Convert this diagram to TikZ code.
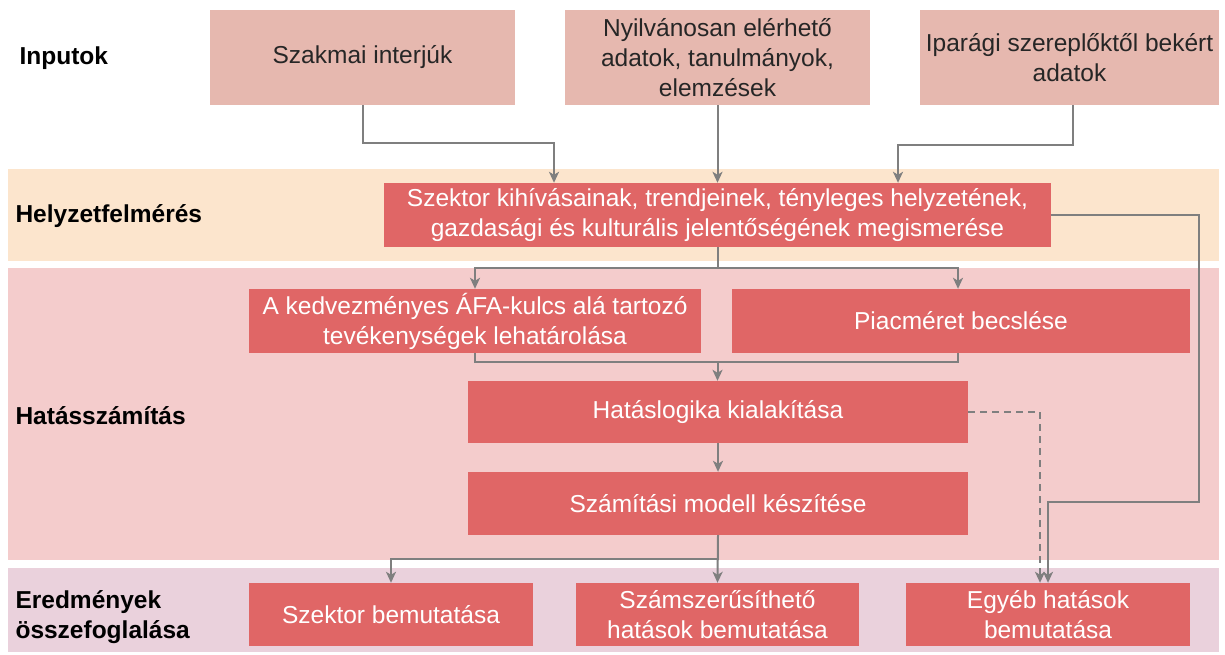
\documentclass[tikz,border=0pt]{standalone}
\usepackage{fontspec}
\setmainfont{Liberation Sans}
\usetikzlibrary{arrows.meta}
\definecolor{inboxc}{HTML}{E6B8AF}
\definecolor{redboxc}{HTML}{E06666}
\definecolor{bandA}{HTML}{FCE5CD}
\definecolor{bandB}{HTML}{F4CCCC}
\definecolor{bandC}{HTML}{EAD1DC}
\definecolor{connc}{HTML}{7F7F7F}
\begin{document}
\begin{tikzpicture}[x=1pt,y=-1pt,
  boxbase/.style={rectangle, inner sep=0pt, align=center, font=\fontsize{24.5}{30}\selectfont},
  inbox/.style={boxbase, fill=inboxc, text=black!85},
  redbox/.style={boxbase, fill=redboxc, text=white},
  lbl/.style={anchor=west, align=left, font=\fontsize{24.5}{30}\selectfont\bfseries, text=black},
  conn/.style={draw=connc, line width=2pt, -{Stealth[length=11pt,width=10pt,inset=3pt]}},
  connplain/.style={draw=connc, line width=2pt},
  conndash/.style={conn, dash pattern=on 7pt off 5pt}
]
\useasboundingbox (0,0) rectangle (1225,655);
\fill[white] (0,0) rectangle (1225,655);
% bands
\fill[bandA] (8,169) rectangle (1219,261);
\fill[bandB] (8,268) rectangle (1219,560);
\fill[bandC] (8,568) rectangle (1219,652);
% labels
\node[lbl] (lin) at (16,58) {Inputok};
\node[lbl] (lhf) at (12,216) {Helyzetfelmérés};
\node[lbl] (lhs) at (12,416) {Hatásszámítás};
\node[lbl] (ler) at (12,617) {Eredmények\\összefoglalása};
% input boxes
\node[inbox, minimum width=305, minimum height=95] (in1) at (362.5,57.5) {Szakmai interjúk};
\node[inbox, minimum width=305, minimum height=95] (in2) at (717.5,57.5) {Nyilvánosan elérhető\\adatok, tanulmányok,\\elemzések};
\node[inbox, minimum width=299, minimum height=95] (in3) at (1069.5,57.5) {Iparági szereplőktől bekért\\adatok};
% main box
\node[redbox, minimum width=667, minimum height=64] (main) at (717.5,215) {Szektor kihívásainak, trendjeinek, tényleges helyzetének,\\gazdasági és kulturális jelentőségének megismerése};
% row 2
\node[redbox, minimum width=452, minimum height=64] (ak) at (475,321) {A kedvezményes ÁFA-kulcs alá tartozó\\tevékenységek lehatárolása};
\node[redbox, minimum width=458, minimum height=64] (pm) at (961,321) {Piacméret becslése};
\node[redbox, minimum width=500, minimum height=62] (hl) at (718,412) {Hatáslogika kialakítása};
\node[redbox, minimum width=500, minimum height=63] (sm) at (718,503.5) {Számítási modell készítése};
% bottom
\node[redbox, minimum width=284, minimum height=63] (sb) at (391,614.5) {Szektor bemutatása};
\node[redbox, minimum width=283, minimum height=63] (sz) at (717.5,614.5) {Számszerűsíthető\\hatások bemutatása};
\node[redbox, minimum width=284, minimum height=63] (eh) at (1048,614.5) {Egyéb hatások\\bemutatása};
% coordinates
\coordinate (c1) at (362.5,143);
\coordinate (c2) at (554,143);
\coordinate (c3) at (1073,145);
\coordinate (c4) at (898,145);
\coordinate (s1) at (717.5,268);
\coordinate (s2) at (475,268);
\coordinate (s3) at (958,268);
\coordinate (j1) at (475,362);
\coordinate (j2) at (958,362);
\coordinate (j3) at (717.5,362);
\coordinate (b1) at (717.5,559);
\coordinate (b2) at (391,559);
\coordinate (r1) at (1199,215);
\coordinate (r2) at (1199,502);
\coordinate (r3) at (1048,502);
\coordinate (d1) at (1040,412);
% inputs to main
\draw[conn] (in1.south) -- (c1) -- (c2) -- (c2 |- main.north);
\draw[conn] (in2.south) -- (in2.south |- main.north);
\draw[conn] (in3.south -| c3) -- (c3) -- (c4) -- (c4 |- main.north);
% main to row 2
\draw[connplain] (main.south) -- (s1);
\draw[conn] (s2) -- (s3) -- (s3 |- pm.north);
\draw[conn] (s3) -- (s2) -- (ak.north);
% row 2 join
\draw[connplain] (ak.south) -- (j1) -- (j2) -- (j2 |- pm.south);
\draw[conn] (j3) -- (j3 |- hl.north);
\draw[conn] (hl.south) -- (sm.north);
% to bottom
\draw[conn] (sm.south) -- (sz.north);
\draw[conn] (b1) -- (b2) -- (sb.north);
% long connector
\draw[conn] (main.east) -- (r1) -- (r2) -- (r3) -- (eh.north);
% dashed
\draw[conndash] (hl.east) -- (d1) -- (d1 |- eh.north);
\end{tikzpicture}
\end{document}
